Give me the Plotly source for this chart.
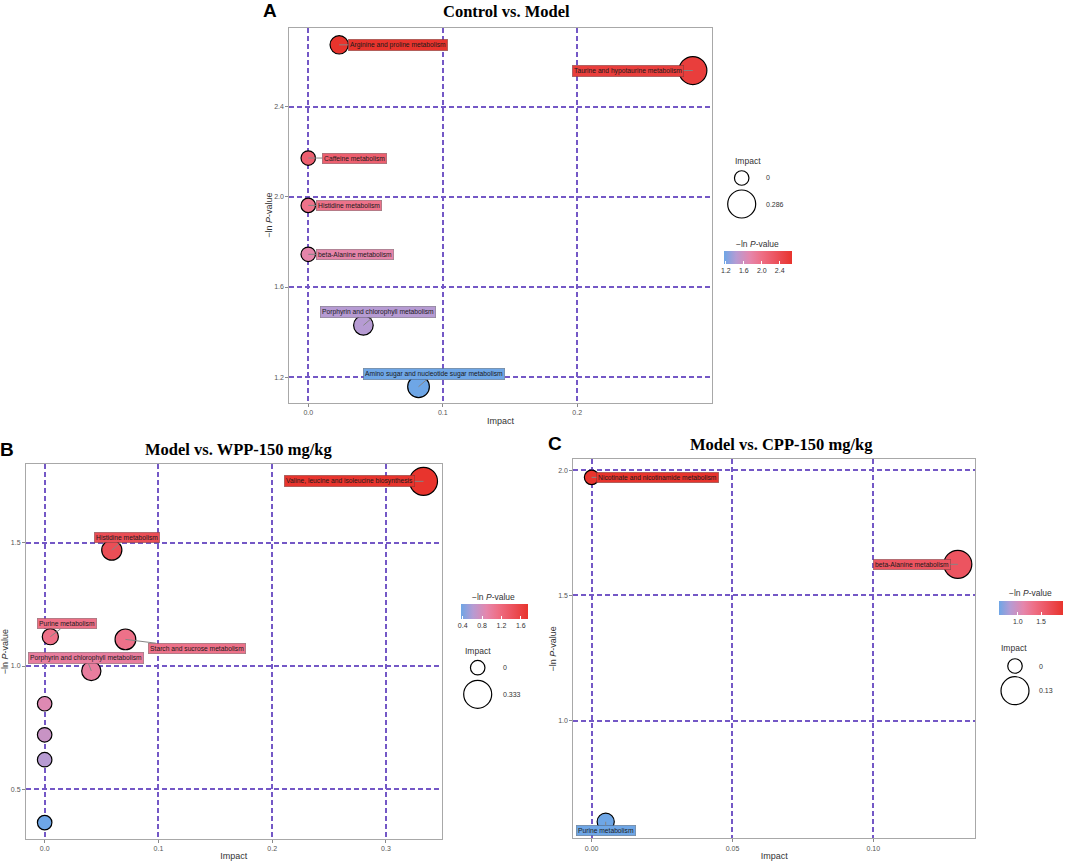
import plotly.graph_objects as go

W, H = 1065, 861

# ---------------- data ----------------
A_names = ["Arginine and proline metabolism", "Taurine and hypotaurine metabolism",
           "Caffeine metabolism", "Histidine metabolism", "beta-Alanine metabolism",
           "Porphyrin and chlorophyll metabolism", "Amino sugar and nucleotide sugar metabolism"]
A_impact = [0.023, 0.286, 0.0, 0.0, 0.0, 0.041, 0.082]
A_lnp = [2.674, 2.560, 2.172, 1.962, 1.745, 1.430, 1.158]

B_names = ["Valine, leucine and isoleucine biosynthesis", "Histidine metabolism",
           "Purine metabolism", "Starch and sucrose metabolism",
           "Porphyrin and chlorophyll metabolism", "", "", "", ""]
B_impact = [0.333, 0.059, 0.005, 0.071, 0.041, 0.0, 0.0, 0.0, 0.0]
B_lnp = [1.749, 1.470, 1.119, 1.108, 0.980, 0.847, 0.721, 0.620, 0.365]

C_names = ["Nicotinate and nicotinamide metabolism", "beta-Alanine metabolism", "Purine metabolism"]
C_impact = [0.0, 0.130, 0.005]
C_lnp = [1.971, 1.624, 0.597]

titles = ["Control vs. Model", "Model vs. WPP-150 mg/kg", "Model vs. CPP-150 mg/kg"]
letters = ["A", "B", "C"]

A_xticks = [0.0, 0.1, 0.2]
A_yticks = [1.2, 1.6, 2.0, 2.4]
B_xticks = [0.0, 0.1, 0.2, 0.3]
B_yticks = [0.5, 1.0, 1.5]
C_xticks = [0.0, 0.05, 0.10]
C_yticks = [1.0, 1.5, 2.0]
A_cbticks = [1.2, 1.6, 2.0, 2.4]
B_cbticks = [0.4, 0.8, 1.2, 1.6]
C_cbticks = [1.0, 1.5]

# label offsets (pixels, label centre relative to point)
A_dx = [59, -65, 46, 41, 47, 15, 15]
A_dy = [0, 0, 0, 0, 0, -13, -13]
B_dx = [-74, 15, 17, 72, -5, 0, 0, 0, 0]
B_dy = [0, -13, -13, 9, -13, 0, 0, 0, 0]
C_dx = [66, -46, 0]
C_dy = [0, 0, 9]

# ---------------- styling helpers ----------------
colorscale = [[0.0, "#6ea6e6"], [0.18, "#b69bd3"], [0.38, "#e586ac"],
              [0.55, "#ee6f86"], [0.75, "#ec5460"], [1.0, "#e8342d"]]


def px(x):
    return x / W


def py(y):
    return 1 - y / H


def hex2rgb(h):
    h = h.lstrip("#")
    return [int(h[i:i + 2], 16) for i in (0, 2, 4)]


def color_at(v, vmin, vmax):
    t = (v - vmin) / (vmax - vmin)
    t = max(0.0, min(1.0, t))
    for (t0, c0), (t1, c1) in zip(colorscale[:-1], colorscale[1:]):
        if t0 <= t <= t1:
            f = (t - t0) / (t1 - t0) if t1 > t0 else 0
            a, b = hex2rgb(c0), hex2rgb(c1)
            return "rgb(%d,%d,%d)" % tuple(round(a[i] + (b[i] - a[i]) * f) for i in range(3))
    return colorscale[-1][1]


DMIN, DMAX = 14.5, 28.0


def size_of(v, vmax):
    return DMIN + (DMAX - DMIN) * (v / vmax) ** 0.5


FONT = "Liberation Sans, Arial, sans-serif"
SERIF = "Liberation Serif, Times New Roman, serif"
GRID = "#7458c6"

panels = [
    dict(names=A_names, impact=A_impact, lnp=A_lnp, dx=A_dx, dy=A_dy, ax="", ca="coloraxis",
         dom_x=(289.3, 711.7), dom_y=(27.7, 402.7), xr=[-0.0141, 0.300], yr=[1.087, 2.750],
         xt=A_xticks, yt=A_yticks, xfmt="%.1f", yfmt="%.1f", cbt=A_cbticks,
         cb=dict(cx=758, top=251, len=68, th=13.3), cbtitle=(757, 243.5),
         imp_title=(748, 160.7), c0=(741.7, 178), c1=(741.7, 204), labx=764,
         title=(506, 12), letter=(269.5, 10), legfmt="%.3f"),
    dict(names=B_names, impact=B_impact, lnp=B_lnp, dx=B_dx, dy=B_dy, ax="2", ca="coloraxis2",
         dom_x=(26, 441.7), dom_y=(464.3, 839), xr=[-0.0164, 0.349], yr=[0.2985, 1.818],
         xt=B_xticks, yt=B_yticks, xfmt="%.1f", yfmt="%.1f", cbt=B_cbticks,
         cb=dict(cx=494.5, top=604.3, len=67, th=14.7), cbtitle=(493, 596.7),
         imp_title=(478, 651), c0=(477.7, 667.7), c1=(477.7, 694.3), labx=501,
         title=(238, 449.5), letter=(6.5, 449.5), legfmt="%.3f"),
    dict(names=C_names, impact=C_impact, lnp=C_lnp, dx=C_dx, dy=C_dy, ax="3", ca="coloraxis3",
         dom_x=(573.3, 975), dom_y=(459.3, 838.3), xr=[-0.0065, 0.1361], yr=[0.531, 2.043],
         xt=C_xticks, yt=C_yticks, xfmt="%.2f", yfmt="%.1f", cbt=C_cbticks,
         cb=dict(cx=1031, top=600.7, len=64, th=14.3), cbtitle=(1030, 593.3),
         imp_title=(1014, 648), c0=(1015, 666), c1=(1015, 690.7), labx=1036.5,
         title=(781, 444), letter=(555, 443.7), legfmt="%.2f"),
]

fig = go.Figure()
annotations = []
shapes = []
layout = dict(width=W, height=H, margin=dict(l=0, r=0, t=0, b=0),
              paper_bgcolor="white", plot_bgcolor="white", showlegend=False,
              font=dict(family=FONT, color="#333"))

for k, p in enumerate(panels):
    vmin, vmax = min(p["lnp"]), max(p["lnp"])
    imax = max(p["impact"])
    xa = "x" + p["ax"]
    ya = "y" + p["ax"]
    sizes = [size_of(v, imax) for v in p["impact"]]
    fig.add_trace(go.Scatter(
        x=p["impact"], y=p["lnp"], mode="markers", xaxis=xa, yaxis=ya,
        marker=dict(size=sizes, sizemode="diameter", color=p["lnp"], coloraxis=p["ca"],
                    line=dict(color="black", width=1.2), opacity=1),
        hovertext=p["names"], hoverinfo="text+x+y"))

    # axes
    axis_common = dict(showline=True, linecolor="#a8a8a8", linewidth=1, mirror=True,
                       showgrid=True, gridcolor=GRID, griddash="5px,3px", gridwidth=1.8,
                       zeroline=False, ticks="outside", ticklen=3, tickcolor="#8a8a8a",
                       tickfont=dict(size=7, color="#555", family=FONT))
    layout["xaxis" + p["ax"]] = dict(
        axis_common, domain=[px(p["dom_x"][0]), px(p["dom_x"][1])], range=p["xr"],
        anchor=ya, tickvals=p["xt"], ticktext=[p["xfmt"] % v for v in p["xt"]],
        title=dict(text="Impact", font=dict(size=9, color="#333", family=FONT), standoff=2))
    layout["yaxis" + p["ax"]] = dict(
        axis_common, domain=[py(p["dom_y"][1]), py(p["dom_y"][0])], range=p["yr"],
        anchor=xa, tickvals=p["yt"], ticktext=[p["yfmt"] % v for v in p["yt"]],
        title=dict(text="\u2212ln <i>P</i>-value", font=dict(size=9, color="#333", family=FONT),
                   standoff=0))

    # colour axis with horizontal colour bar
    cb = p["cb"]
    layout[p["ca"]] = dict(
        colorscale=colorscale, cmin=vmin, cmax=vmax,
        colorbar=dict(orientation="h", x=px(cb["cx"]), xanchor="center",
                      y=py(cb["top"]), yanchor="top", len=cb["len"], lenmode="pixels",
                      thickness=cb["th"], thicknessmode="pixels", outlinewidth=0,
                      xpad=0, ypad=0, tickvals=p["cbt"],
                      ticktext=["%.1f" % v for v in p["cbt"]],
                      ticks="inside", ticklen=3, tickcolor="white",
                      tickfont=dict(size=7, color="#333", family=FONT)))
    annotations.append(dict(text="\u2212ln <i>P</i>-value", x=px(p["cbtitle"][0]),
                            y=py(p["cbtitle"][1]), xref="paper", yref="paper",
                            showarrow=False, xanchor="center", yanchor="middle",
                            font=dict(size=8.5, color="#333", family=FONT)))

    # size legend
    annotations.append(dict(text="Impact", x=px(p["imp_title"][0]), y=py(p["imp_title"][1]),
                            xref="paper", yref="paper", showarrow=False,
                            xanchor="center", yanchor="middle",
                            font=dict(size=8.5, color="#333", family=FONT)))
    for (cx, cy), val in ((p["c0"], 0.0), (p["c1"], imax)):
        d = size_of(val, imax)
        shapes.append(dict(type="circle", xref="paper", yref="paper",
                           x0=px(cx - d / 2), x1=px(cx + d / 2),
                           y0=py(cy + d / 2), y1=py(cy - d / 2),
                           line=dict(color="black", width=1.2), fillcolor="white"))
        lab = "0" if val == 0 else (p["legfmt"] % val).rstrip("0")
        annotations.append(dict(text=lab, x=px(p["labx"]), y=py(cy), xref="paper",
                                yref="paper", showarrow=False, xanchor="left",
                                yanchor="middle", font=dict(size=7, color="#333", family=FONT)))

    # point labels
    for name, xv, yv, dx, dy in zip(p["names"], p["impact"], p["lnp"], p["dx"], p["dy"]):
        if not name:
            continue
        annotations.append(dict(
            text=name, x=xv, y=yv, xref=xa, yref=ya, ax=dx, ay=dy,
            showarrow=True, arrowhead=0, arrowwidth=1, arrowcolor="#858585",
            standoff=0, startstandoff=0,
            bgcolor=color_at(yv, vmin, vmax), bordercolor="rgba(60,60,60,0.55)",
            borderwidth=0.6, borderpad=1.5,
            font=dict(size=6.7, color="#1a1a1a", family=FONT)))

    # titles and panel letters
    annotations.append(dict(text="<b>%s</b>" % titles[k], x=px(p["title"][0]),
                            y=py(p["title"][1]), xref="paper", yref="paper",
                            showarrow=False, xanchor="center", yanchor="middle",
                            font=dict(size=16.5, color="black", family=SERIF)))
    annotations.append(dict(text="<b>%s</b>" % letters[k], x=px(p["letter"][0]),
                            y=py(p["letter"][1]), xref="paper", yref="paper",
                            showarrow=False, xanchor="center", yanchor="middle",
                            font=dict(size=19, color="black", family=FONT)))

layout["annotations"] = annotations
layout["shapes"] = shapes
fig.update_layout(**layout)

fig.write_html("out.html", config={"displayModeBar": False},
               post_script="document.body.style.margin='0';")
